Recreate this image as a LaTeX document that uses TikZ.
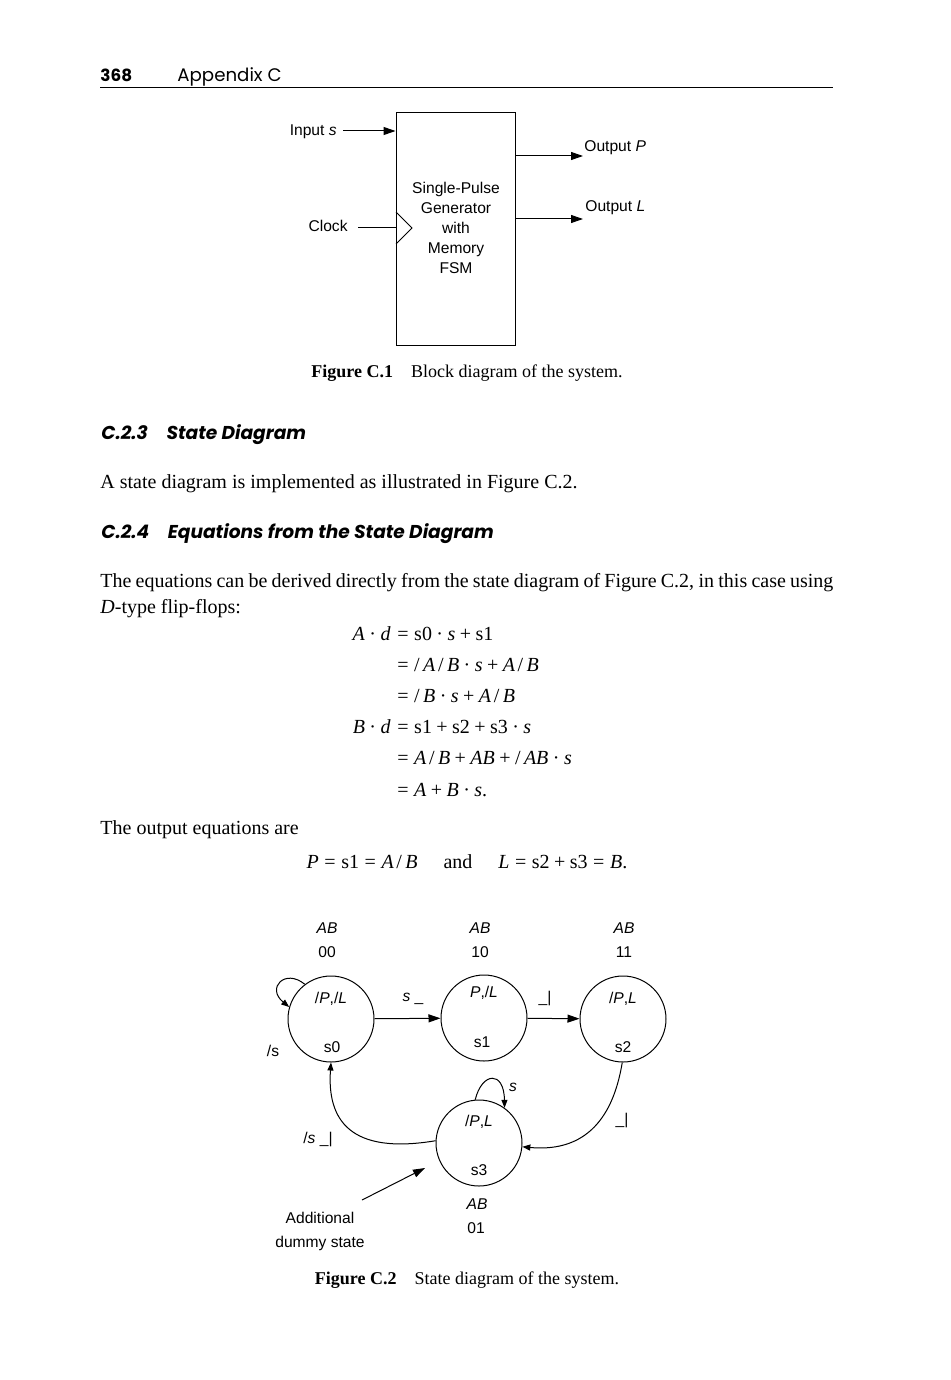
\documentclass[tikz,border=0pt]{standalone}
\usepackage{fontspec}
\setmainfont{Liberation Serif}
\newfontfamily\diafont{Liberation Sans}
\newfontfamily\headfont{Poppins}
\usepackage{tikz}
\usetikzlibrary{arrows.meta, positioning}

\newcommand{\vi}[1]{\textit{#1}}
\newcommand{\cdt}{\:·\:}
\newcommand{\sla}{\hspace{1.3pt}/\hspace{1.7pt}}
\newcommand{\lsla}{/\hspace{1.7pt}}

\begin{document}
\begin{tikzpicture}[x=0.5pt, y=-0.5pt, font=\fontsize{10}{13}\selectfont,
  dia/.style={font=\diafont\fontsize{7.8}{10}\selectfont},
  txt/.style={anchor=base west, inner sep=0pt},
  arr/.style={-{Triangle[length=6pt, width=4pt]}, line width=0.5pt},
  arrs/.style={-{Triangle[length=4pt, width=3pt]}, line width=0.5pt},
  statebox/.style={draw, circle, minimum size=43pt, inner sep=0pt, line width=0.5pt},
  sechead/.style={txt, font=\headfont\bfseries\itshape\fontsize{9.3}{11}\selectfont}]
  \fill[white] (0,0) rectangle (950,1380);
  \useasboundingbox (0,0) rectangle (950,1380);
  % Running head
  \node[txt, font=\headfont\bfseries\fontsize{8.4}{11}\selectfont] (pagenum) at (100,82) {368};
  \node[txt, font=\headfont\fontsize{9.1}{11}\selectfont] (runhead) at (177,82) {Appendix C};
  \draw[line width=0.5pt] (100,88) -- (833,88);
  % Block diagram
  \node[draw, line width=0.5pt, minimum width=59.5pt, minimum height=116pt, inner sep=0pt] (fsm) at (455.5,229) {};
  \node[dia, align=center] (fsmtxt) at (456,228) {Single-Pulse\\Generator\\with\\Memory\\FSM};
  \node[dia, anchor=base east, inner sep=0pt] (inlbl) at (337,136) {Input \vi{s}};
  \coordinate (intail) at (343,131);
  \draw[arr] (intail) -- (intail -| fsm.west);
  \node[dia, anchor=base east, inner sep=0pt] (clklbl) at (348,232) {Clock};
  \coordinate (clktail) at (358,228);
  \draw[line width=0.5pt] (clktail) -- (clktail -| fsm.west);
  \draw[line width=0.5pt] (396,212) -- (412,228) -- (396,244);
  \coordinate (ptip) at (583,156);
  \draw[arr] (ptip -| fsm.east) -- (ptip);
  \node[dia, txt] (plbl) at (584,152) {Output \vi{P}};
  \coordinate (ltip) at (583,219);
  \draw[arr] (ltip -| fsm.east) -- (ltip);
  \node[dia, txt] (llbl) at (585,212) {Output \vi{L}};
  \node[anchor=base, font=\fontsize{9}{11}\selectfont] (cap1) at (467,377)
    {\textbf{Figure C.1}\quad Block diagram of the system.};
  % Text
  \node[sechead] (sec3) at (101,439) {C.2.3\hspace{1em}State Diagram};
  \node[txt] (body3) at (100,488) {A state diagram is implemented as illustrated in Figure C.2.};
  \node[sechead] (sec4) at (101,538) {C.2.4\hspace{1em}Equations from the State Diagram};
  \node[txt] (body4a) at (100,587)
    {\makebox[366.5pt][s]{The equations can be derived directly from the state diagram of Figure C.2, in this case using}};
  \node[txt] (body4b) at (100,613) {\vi{D}-type flip-flops:};
  % Equations
  \node[anchor=base east, inner sep=0pt] (ad) at (391,640) {\vi{A}\cdt\vi{d}};
  \node[txt] (ad1) at (397,640) {=\;s0\cdt\vi{s}\:+\:s1};
  \node[txt] (ad2) at (397,671) {=\;\lsla\vi{A}\sla\vi{B}\cdt\vi{s}\:+\:\vi{A}\sla\vi{B}};
  \node[txt] (ad3) at (397,702) {=\;\lsla\vi{B}\cdt\vi{s}\:+\:\vi{A}\sla\vi{B}};
  \node[anchor=base east, inner sep=0pt] (bd) at (391,733) {\vi{B}\cdt\vi{d}};
  \node[txt] (bd1) at (397,733) {=\;s1\:+\:s2\:+\:s3\cdt\vi{s}};
  \node[txt] (bd2) at (397,764) {=\;\vi{A}\sla\vi{B}\:+\:\vi{AB}\:+\:\lsla\vi{AB}\cdt\vi{s}};
  \node[txt] (bd3) at (397,796) {=\;\vi{A}\:+\:\vi{B}\cdt\vi{s}.};
  \node[txt] (body5) at (100,834) {The output equations are};
  \node[anchor=base] (outeq) at (467,868)
    {\vi{P}\;=\;s1\;=\;\vi{A}\sla\vi{B}\hspace{13pt}and\hspace{13pt}\vi{L}\;=\;s2\:+\:s3\;=\;\vi{B}.};
  % State diagram
  \node[dia] (ab0) at (327,928) {\vi{AB}};
  \node[dia] (code0) at (327,952) {00};
  \node[dia] (ab1) at (480,928) {\vi{AB}};
  \node[dia] (code1) at (480,952) {10};
  \node[dia] (ab2) at (624,928) {\vi{AB}};
  \node[dia] (code2) at (624,952) {11};
  \node[statebox] (s0) at (331,1019) {};
  \node[statebox] (s1) at (484,1018) {};
  \node[statebox] (s2) at (623,1019) {};
  \node[statebox] (s3) at (479,1143) {};
  \node[dia] (out0) at (331,999) {/\vi{P},/\vi{L}};
  \node[dia] (name0) at (332,1047) {s0};
  \node[dia] (out1) at (484,993) {\vi{P},/\vi{L}};
  \node[dia] (name1) at (482,1042) {s1};
  \node[dia] (out2) at (623,999) {/\vi{P},\vi{L}};
  \node[dia] (name2) at (623,1047) {s2};
  \node[dia] (out3) at (479,1122) {/\vi{P},\vi{L}};
  \node[dia] (name3) at (479,1170) {s3};
  \node[dia] (ab3) at (477,1204) {\vi{AB}};
  \node[dia] (code3) at (476,1228) {01};
  % Transitions
  \draw[arr] (s0) -- (s1);
  \node[dia] (t01) at (413,999) {\vi{s} \_};
  \draw[arr] (s1) -- (s2);
  \node[dia] (t12) at (545,998) {\_|};
  \draw[arrs] (s0.127) .. controls (285,968) and (266,988) .. (s0.164);
  \node[dia] (t00) at (273,1051) {/s};
  \draw[arrs] (s3.95) .. controls (482,1072) and (504,1070) .. (s3.54);
  \node[dia] (t33) at (513,1087) {\vi{s}};
  \draw[arrs] (s2.-91) .. controls (612,1125) and (580,1152) .. (s3.-5);
  \node[dia] (t23) at (622,1120) {\_|};
  \draw[arrs] (s3.177) .. controls (350,1155) and (327,1120) .. (s0.-90);
  \node[dia] (t30) at (318,1139) {/\vi{s} \_|};
  % Dummy state note
  \node[dia, align=center, font=\diafont\fontsize{7.8}{12}\selectfont] (dummy) at (320,1231) {Additional\\dummy state};
  \coordinate (dumtail) at (362,1200);
  \coordinate (dumtip) at (425,1168);
  \draw[arr] (dumtail) -- (dumtip);
  \node[anchor=base, font=\fontsize{9}{11}\selectfont] (cap2) at (467,1284)
    {\textbf{Figure C.2}\quad State diagram of the system.};
\end{tikzpicture}
\end{document}
